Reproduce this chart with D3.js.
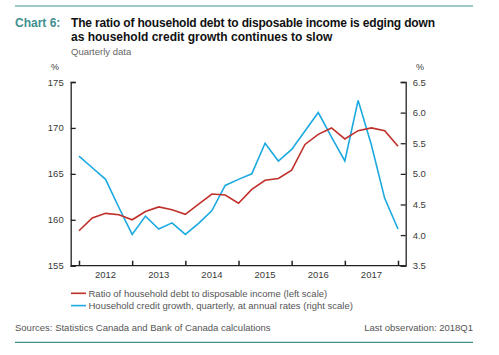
<!DOCTYPE html>
<html><head><meta charset="utf-8">
<script src="https://cdn.jsdelivr.net/npm/d3@7"></script>
<style>body{margin:0;background:#fff;} svg{display:block;font-family:"Liberation Sans",Arial,sans-serif;}</style>
</head><body>
<script>
const quarters = d3.range(25).map(i => 2012 + i/4); // 2012Q1 .. 2018Q1
const debtRatio = [158.8,160.2,160.7,160.55,160.0,160.9,161.4,161.1,160.6,161.7,162.8,162.7,161.8,163.3,164.3,164.5,165.4,168.2,169.3,170.0,168.8,169.7,170.0,169.7,168.0];
const creditGrowth = [5.29,5.1,4.91,4.45,4.01,4.31,4.10,4.20,4.01,4.19,4.40,4.81,4.91,5.0,5.50,5.21,5.40,5.70,6.0,5.60,5.21,6.20,5.47,4.60,4.10];
const leftTicks = [155,160,165,170,175];
const rightTicks = [3.5,4.0,4.5,5.0,5.5,6.0,6.5];
const yearLabels = [2012,2013,2014,2015,2016,2017];

const W=499,H=355;
const svg=d3.select("body").append("svg").attr("width",W).attr("height",H);
const teal="#3f8f8f", red="#c0302b", blue="#1ba9e1", grey="#3a3a3a", lgrey="#555";

const x=d3.scaleLinear().domain([2012,2018]).range([79,398]);
const yL=d3.scaleLinear().domain([155,175]).range([265.7,82]);
const yR=d3.scaleLinear().domain([3.5,6.5]).range([265.7,82]);

// rules
svg.append("line").attr("x1",15).attr("x2",473).attr("y1",6).attr("y2",6).attr("stroke",teal).attr("stroke-width",1.2);
svg.append("line").attr("x1",15).attr("x2",473).attr("y1",342.3).attr("y2",342.3).attr("stroke",teal).attr("stroke-width",1.2);

// title
svg.append("text").attr("x",15).attr("y",27).attr("fill",teal).attr("font-weight","bold").attr("font-size",12).text("Chart 6:");
svg.append("text").attr("x",71).attr("y",27).attr("fill","#111").attr("font-weight","bold").attr("font-size",12).attr("textLength",364).text("The ratio of household debt to disposable income is edging down");
svg.append("text").attr("x",71).attr("y",41).attr("fill","#111").attr("font-weight","bold").attr("font-size",12).text("as household credit growth continues to slow");
svg.append("text").attr("x",71).attr("y",55).attr("fill","#666").attr("font-size",9.5).text("Quarterly data");

// axes
const axL=d3.axisLeft(yL).tickValues(leftTicks).tickSize(-5).tickPadding(7).tickFormat(d3.format("d"));
const gL=svg.append("g").attr("transform","translate(70.7,0)").call(axL);
const axR=d3.axisRight(yR).tickValues(rightTicks).tickSize(-5).tickPadding(7).tickFormat(d3.format(".1f"));
const gR=svg.append("g").attr("transform","translate(405.7,0)").call(axR);
const axB=d3.axisBottom(x).tickValues(d3.range(2012,2019)).tickSize(-5).tickFormat("");
const gB=svg.append("g").attr("transform","translate(0,265.7)").call(axB);
gB.select(".domain").attr("d","M70.7,0H405.7");
[gL,gR,gB].forEach(g=>{
  g.selectAll(".domain").attr("stroke","#222").attr("stroke-width",1.3);
  g.selectAll(".tick line").attr("stroke","#222").attr("stroke-width",1.3);
  g.selectAll("text").attr("font-size",9.5).attr("fill",grey).attr("font-family","Liberation Sans, Arial, sans-serif");
});
gB.selectAll(".tick line").attr("stroke-width",1.5);
svg.selectAll(".year").data(yearLabels).enter().append("text")
  .attr("x",d=>x(d+0.5)).attr("y",278).attr("text-anchor","middle").attr("font-size",9.5).attr("fill",grey).text(d=>d);

svg.append("text").attr("x",55).attr("y",70).attr("text-anchor","middle").attr("font-size",9).attr("fill",grey).text("%");
svg.append("text").attr("x",420).attr("y",70).attr("text-anchor","middle").attr("font-size",9).attr("fill",grey).text("%");

// lines
svg.append("path").datum(quarters.map((q,i)=>[q,creditGrowth[i]]))
  .attr("fill","none").attr("stroke",blue).attr("stroke-width",1.6)
  .attr("d",d3.line().x(d=>x(d[0])).y(d=>yR(d[1])));
svg.append("path").datum(quarters.map((q,i)=>[q,debtRatio[i]]))
  .attr("fill","none").attr("stroke",red).attr("stroke-width",1.6)
  .attr("d",d3.line().x(d=>x(d[0])).y(d=>yL(d[1])));

// legend
const leg=[["Ratio of household debt to disposable income (left scale)",red],["Household credit growth, quarterly, at annual rates (right scale)",blue]];
leg.forEach((l,i)=>{
  const yy=296.7+i*12.3;
  svg.append("line").attr("x1",71).attr("x2",86).attr("y1",yy-3.4).attr("y2",yy-3.4).attr("stroke",l[1]).attr("stroke-width",1.6);
  svg.append("text").attr("x",88.5).attr("y",yy).attr("font-size",9.5).attr("fill",lgrey).text(l[0]);
});

svg.append("text").attr("x",15).attr("y",331).attr("font-size",9.5).attr("fill",lgrey).text("Sources: Statistics Canada and Bank of Canada calculations");
svg.append("text").attr("x",473).attr("y",331).attr("text-anchor","end").attr("font-size",9.5).attr("fill",lgrey).text("Last observation: 2018Q1");
</script>
</body></html>
